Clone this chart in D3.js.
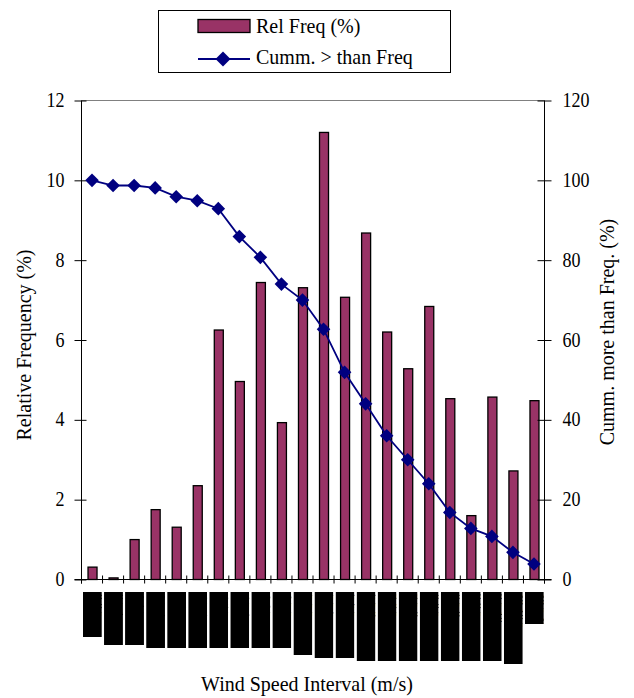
<!DOCTYPE html>
<html>
<head>
<meta charset="utf-8">
<script src="https://cdn.jsdelivr.net/npm/d3@7"></script>
<style>
  html, body { margin: 0; padding: 0; background: #fff; }
  svg { display: block; }
  text { font-family: "Liberation Serif", "Times New Roman", serif; fill: #000; }
</style>
</head>
<body>
<svg id="chart" width="634" height="698"></svg>
<script>
// ---- data ----
const categories = ["0-0.5","0.5-1","1-1.5","1.5-2","2-2.5","2.5-3","3-3.5","3.5-4","4-4.5","4.5-5","5-5.5",
                    "5.5-6","6-6.5","6.5-7","7-7.5","7.5-8","8-8.5","8.5-9","9-9.5","9.5-10","10-10.5","10.5-11"];
const relFreq = [0.31, 0.04, 1.0, 1.75, 1.31, 2.35, 6.25, 4.96, 7.44, 3.93, 7.31,
                 11.2, 7.07, 8.68, 6.2, 5.28, 6.84, 4.53, 1.6, 4.57, 2.72, 4.48];
const cummMore = [100, 98.7, 98.7, 98.1, 95.9, 94.9, 92.9, 85.9, 80.7, 74.0, 70.0,
                  62.7, 51.9, 44.0, 36.0, 30.0, 24.0, 16.8, 12.8, 10.8, 6.8, 3.9];
// rendered extent of the (illegible) rotated tick labels
const tickLabelExtent = [45, 53, 53, 56, 56, 56, 56, 56, 56, 56, 63, 66, 66, 69, 69, 69, 69, 69, 69, 69, 72, 32];
const leftTicks = [0, 2, 4, 6, 8, 10, 12];
const rightTicks = [0, 20, 40, 60, 80, 100, 120];

// ---- layout ----
const L = 81.5, R = 544.5, T = 100.5, B = 579.5;
const svg = d3.select("#chart");
const defs = svg.append("defs");

const x = d3.scaleBand().domain(categories).range([L, R]).padding(0);
const yL = d3.scaleLinear().domain([0, 12]).range([B, T]);
const yR = d3.scaleLinear().domain([0, 120]).range([B, T]);
const barW = 9;

// top border of plot area
svg.append("line").attr("x1", L).attr("x2", R).attr("y1", T).attr("y2", T)
  .attr("stroke", "#808080").attr("stroke-width", 1);

// bars
svg.append("g").selectAll("rect").data(categories).join("rect")
  .attr("x", d => x(d) + (x.bandwidth() - barW) / 2 + 0.5)
  .attr("y", (d, i) => yL(relFreq[i]))
  .attr("width", barW)
  .attr("height", (d, i) => B - yL(relFreq[i]))
  .attr("fill", "#993366")
  .attr("stroke", "#000")
  .attr("stroke-width", 1.3);

// axes
const tickLen = 7;
const styleTickText = sel => sel
  .style("font-family", "Liberation Serif").style("font-size", "18px").attr("fill", "#000");

// left axis
const gL = svg.append("g").attr("transform", `translate(${L},0)`);
gL.call(d3.axisLeft(yL).tickValues(leftTicks).tickSize(0).tickPadding(0).tickFormat(d3.format("d")));
gL.select(".domain").remove();
gL.append("line").attr("x1", 0).attr("x2", 0).attr("y1", T).attr("y2", B + 4).attr("stroke", "#000");
gL.selectAll(".tick").each(function() {
  const t = d3.select(this);
  t.select("line").remove();
  t.append("line").attr("x1", -tickLen).attr("x2", 5).attr("stroke", "#000");
  t.select("text").attr("x", null).attr("dy", null)
    .attr("transform", "translate(-17,6) scale(1,1.15)")
    .call(styleTickText);
});

// right axis
const gR = svg.append("g").attr("transform", `translate(${R},0)`);
gR.call(d3.axisRight(yR).tickValues(rightTicks).tickSize(0).tickPadding(0).tickFormat(d3.format("d")));
gR.select(".domain").remove();
gR.append("line").attr("x1", 0).attr("x2", 0).attr("y1", T).attr("y2", B + 4).attr("stroke", "#000");
gR.selectAll(".tick").each(function() {
  const t = d3.select(this);
  t.select("line").remove();
  t.append("line").attr("x1", -tickLen).attr("x2", tickLen).attr("stroke", "#000");
  t.select("text").attr("x", null).attr("dy", null)
    .attr("transform", "translate(18,6) scale(1,1.15)")
    .call(styleTickText);
});

// x axis
svg.append("line").attr("x1", L - 7).attr("x2", R + 7).attr("y1", B).attr("y2", B).attr("stroke", "#000");
const bounds = categories.map(c => x(c)).concat([R]);
svg.append("g").selectAll("line").data(bounds).join("line")
  .attr("x1", d => d).attr("x2", d => d)
  .attr("y1", B - 4).attr("y2", B + 4)
  .attr("stroke", "#000");

// tick label blocks (labels rendered as solid blocks)
const boxW = x.bandwidth() - 2.2;
categories.forEach((c, i) => {
  defs.append("clipPath").attr("id", "clip" + i)
    .append("rect").attr("width", boxW).attr("height", tickLabelExtent[i]);
});
const labG = svg.append("g").selectAll("g").data(categories).join("g")
  .attr("transform", d => `translate(${x(d) + 1.5},592)`)
  .attr("clip-path", (d, i) => `url(#clip${i})`);
labG.append("rect")
  .attr("width", boxW)
  .attr("height", (d, i) => tickLabelExtent[i])
  .attr("fill", "#000");
labG.append("text")
  .attr("transform", `translate(${boxW / 2 + 4},2) rotate(90)`)
  .style("font-size", "11px")
  .attr("fill", "#000")
  .text(d => d);

// cumulative line
const lineGen = d3.line()
  .x((d, i) => x(categories[i]) + x.bandwidth() / 2)
  .y(d => yR(d));
svg.append("path").datum(cummMore)
  .attr("d", lineGen)
  .attr("fill", "none")
  .attr("stroke", "#000080")
  .attr("stroke-width", 1.8);

const diamond = s => `M0,${-s}L${s},0L0,${s}L${-s},0Z`;
svg.append("g").selectAll("path").data(cummMore).join("path")
  .attr("transform", (d, i) => `translate(${x(categories[i]) + x.bandwidth() / 2},${yR(d)})`)
  .attr("d", diamond(6.8))
  .attr("fill", "#000080");

// axis titles
svg.append("text")
  .attr("transform", `translate(31,345) rotate(-90) scale(1,1.1)`)
  .attr("text-anchor", "middle")
  .style("font-size", "20px")
  .text("Relative Frequency (%)");

svg.append("text")
  .attr("transform", `translate(614,332) rotate(-90) scale(1,1.1)`)
  .attr("text-anchor", "middle")
  .style("font-size", "20px")
  .text("Cumm. more than Freq. (%)");

svg.append("text")
  .attr("transform", "translate(307,691) scale(1,1.1)")
  .attr("text-anchor", "middle")
  .style("font-size", "20px")
  .text("Wind Speed Interval (m/s)");

// legend
const lg = svg.append("g");
lg.append("rect").attr("x", 158.5).attr("y", 10.5).attr("width", 292).attr("height", 62)
  .attr("fill", "#fff").attr("stroke", "#000").attr("stroke-width", 1);
lg.append("rect").attr("x", 198).attr("y", 19.5).attr("width", 52).attr("height", 13)
  .attr("fill", "#993366").attr("stroke", "#000").attr("stroke-width", 1.3);
lg.append("text").attr("transform", "translate(256,33) scale(1,1.1)").style("font-size", "20px").text("Rel Freq (%)");
lg.append("line").attr("x1", 198).attr("x2", 250).attr("y1", 59).attr("y2", 59)
  .attr("stroke", "#000080").attr("stroke-width", 1.8);
lg.append("path").attr("transform", "translate(223,59)").attr("d", diamond(7.5)).attr("fill", "#000080");
lg.append("text").attr("transform", "translate(256,64) scale(1,1.1)").style("font-size", "20px").text("Cumm. > than Freq");
</script>
</body>
</html>
